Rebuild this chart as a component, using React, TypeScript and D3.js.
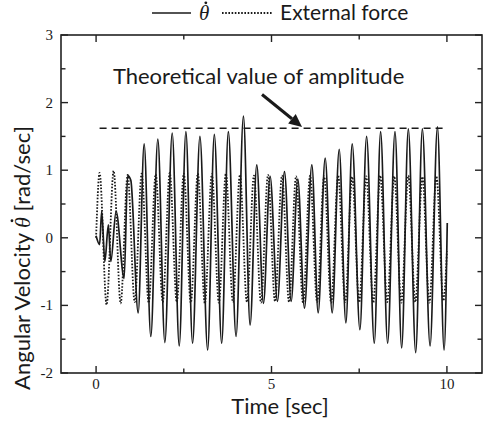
import React, { useLayoutEffect, useRef, useState } from 'react';
import * as d3 from 'd3';

// External force: extrema (time [s], value)
const forceT = [0, 0.1, 0.3, 0.5, 0.7, 0.9, 1.1, 1.3, 1.5, 1.7, 1.9, 2.1, 2.3, 2.5, 2.7, 2.9, 3.1, 3.3, 3.5, 3.7, 3.9, 4.1, 4.3, 4.5, 4.7, 4.9, 5.1, 5.3, 5.5, 5.7, 5.9, 6.1, 6.3, 6.5, 6.7, 6.9, 7.1, 7.3, 7.5, 7.7, 7.9, 8.1, 8.3, 8.5, 8.7, 8.9, 9.1, 9.3, 9.5, 9.7, 9.9, 10.0];
const forceV = [0, 0.96, -0.99, 0.99, -0.97, 0.93, -0.95, 0.95, -0.96, 0.94, -0.95, 0.96, -0.95, 0.95, -0.96, 0.95, -0.97, 0.94, -0.96, 0.95, -0.95, 0.93, -0.95, 0.92, -0.96, 0.93, -0.94, 0.92, -0.95, 0.91, -0.96, 0.92, -0.95, 0.91, -0.96, 0.92, -0.95, 0.9, -0.95, 0.91, -0.96, 0.92, -0.95, 0.91, -0.96, 0.92, -0.95, 0.9, -0.96, 0.91, -0.93, -0.2];

// Angular velocity: extrema (time [s], value)
const velT = [0, 0.1, 0.16, 0.25, 0.35, 0.42, 0.57, 0.8, 0.9, 0.99, 1.2, 1.37, 1.56, 1.76, 1.96, 2.17, 2.37, 2.56, 2.75, 2.96, 3.18, 3.37, 3.58, 3.77, 3.99, 4.2, 4.39, 4.58, 4.77, 4.96, 5.17, 5.37, 5.56, 5.75, 5.94, 6.15, 6.33, 6.53, 6.73, 6.93, 7.12, 7.3, 7.52, 7.71, 7.93, 8.11, 8.31, 8.52, 8.71, 8.9, 9.11, 9.3, 9.52, 9.73, 9.92, 10.01];
const velV = [0.03, -0.1, 0.39, -0.35, 0.19, -0.35, 0.39, -0.6, 0.92, 0.85, -1.11, 1.39, -1.46, 1.46, -1.55, 1.55, -1.6, 1.57, -1.56, 1.5, -1.66, 1.53, -1.56, 1.57, -1.46, 1.8, -1.29, 1.08, -0.97, 0.91, -0.94, 0.98, -0.94, 0.87, -1.04, 1.08, -1.11, 1.18, -1.11, 1.31, -1.26, 1.39, -1.36, 1.5, -1.56, 1.57, -1.56, 1.57, -1.63, 1.61, -1.7, 1.61, -1.6, 1.64, -1.66, 0.22];

const xMajor = [0, 5, 10];
const xMinor = [2.5, 7.5];
const yMajor = [-2, -1, 0, 1, 2, 3];
const yMinor = [-1.5, -0.5, 0.5, 1.5, 2.5];
const theoryValue = 1.62;
const theorySpan = [0.1, 10];
const annotationText = 'Theoretical value of amplitude';
const annotationPos = [0.48, 2.27];
const arrowFrom = [4.73, 2.12];
const arrowTo = [5.87, 1.64];

const W = 483;
const H = 421;
const SANS = 'Lato, "Open Sans", sans-serif';
const SERIF = '"Liberation Serif", "DejaVu Serif", serif';
const INK = '#1a1a1a';

type Pt = { x: number; y: number };

function useThetaDot(ref: React.RefObject<SVGTextElement | null>, index: number, fontSize: number) {
  const [pt, setPt] = useState<Pt | null>(null);
  useLayoutEffect(() => {
    const el = ref.current;
    if (!el) return;
    try {
      const r = el.getExtentOfChar(index);
      const base = el.getStartPositionOfChar(index).y;
      setPt({ x: r.x + r.width * 0.5 + fontSize * 0.08, y: base - fontSize * 0.82 });
    } catch (e) {
      /* ignore */
    }
  }, [ref, index, fontSize]);
  return pt;
}

export default function App() {
  const x = d3.scaleLinear().domain([-1, 11]).range([61, 482]);
  const y = d3.scaleLinear().domain([-2, 3]).range([373, 35]);

  const line = d3
    .line<[number, number]>()
    .x((d) => x(d[0]))
    .y((d) => y(d[1]))
    .curve(d3.curveMonotoneX);

  const forcePath = line(forceT.map((t, i) => [t, forceV[i]]) as [number, number][]) || '';
  const velPath = line(velT.map((t, i) => [t, velV[i]]) as [number, number][]) || '';

  const [x0, x1] = x.range();
  const [yb, yt] = y.range();

  const ax0 = x(arrowFrom[0]);
  const ay0 = y(arrowFrom[1]);
  const ax1 = x(arrowTo[0]);
  const ay1 = y(arrowTo[1]);
  const ang = Math.atan2(ay1 - ay0, ax1 - ax0);
  const headL = 13;
  const headW = 6;
  const bx = ax1 - headL * Math.cos(ang);
  const by = ay1 - headL * Math.sin(ang);
  const px = -Math.sin(ang);
  const py = Math.cos(ang);
  const head = `${ax1},${ay1} ${bx + headW * px},${by + headW * py} ${bx - headW * px},${by - headW * py}`;

  const majL = 7;
  const minL = 4.5;

  const yLabelRef = useRef<SVGTextElement>(null);
  const legRef = useRef<SVGTextElement>(null);
  const yDot = useThetaDot(yLabelRef, 17, 22);
  const legDot = useThetaDot(legRef, 0, 21);

  return (
    <svg width={W} height={H} style={{ position: 'absolute', left: 0, top: 0, background: '#fff' }}>
      <rect x={0} y={0} width={W} height={H} fill="#fff" />
      <path d={forcePath} fill="none" stroke={INK} strokeWidth={1.8} strokeDasharray="1.6,1.6" />
      <path d={velPath} fill="none" stroke={INK} strokeWidth={1.7} />
      <line
        x1={x(theorySpan[0])}
        x2={x(theorySpan[1])}
        y1={y(theoryValue)}
        y2={y(theoryValue)}
        stroke={INK}
        strokeWidth={1.4}
        strokeDasharray="7,5"
      />
      <text x={x(annotationPos[0])} y={y(annotationPos[1])} fontFamily={SANS} fontSize={22} fill={INK}>
        {annotationText}
      </text>
      <line x1={ax0} y1={ay0} x2={bx} y2={by} stroke={INK} strokeWidth={3} />
      <polygon points={head} fill={INK} />

      <rect x={x0} y={yt} width={x1 - x0} height={yb - yt} fill="none" stroke="#222" strokeWidth={1.6} />
      {xMajor.map((t) => (
        <g key={'xm' + t}>
          <line x1={x(t)} x2={x(t)} y1={yb} y2={yb - majL} stroke="#222" strokeWidth={1.4} />
          <line x1={x(t)} x2={x(t)} y1={yt} y2={yt + majL} stroke="#222" strokeWidth={1.4} />
          <text x={x(t)} y={yb + 16} textAnchor="middle" fontFamily={SERIF} fontSize={15} fill={INK}>
            {t}
          </text>
        </g>
      ))}
      {xMinor.map((t) => (
        <g key={'xn' + t}>
          <line x1={x(t)} x2={x(t)} y1={yb} y2={yb - minL} stroke="#222" strokeWidth={1.4} />
          <line x1={x(t)} x2={x(t)} y1={yt} y2={yt + minL} stroke="#222" strokeWidth={1.4} />
        </g>
      ))}
      {yMajor.map((v) => (
        <g key={'ym' + v}>
          <line x1={x0} x2={x0 + majL} y1={y(v)} y2={y(v)} stroke="#222" strokeWidth={1.4} />
          <line x1={x1} x2={x1 - majL} y1={y(v)} y2={y(v)} stroke="#222" strokeWidth={1.4} />
          <text x={x0 - 8} y={y(v) + 5} textAnchor="end" fontFamily={SERIF} fontSize={15} fill={INK}>
            {v}
          </text>
        </g>
      ))}
      {yMinor.map((v) => (
        <g key={'yn' + v}>
          <line x1={x0} x2={x0 + minL} y1={y(v)} y2={y(v)} stroke="#222" strokeWidth={1.4} />
          <line x1={x1} x2={x1 - minL} y1={y(v)} y2={y(v)} stroke="#222" strokeWidth={1.4} />
        </g>
      ))}

      <text x={280} y={414} textAnchor="middle" fontFamily={SANS} fontSize={22} fill={INK}>
        Time [sec]
      </text>
      <g transform="translate(30, 258) rotate(-90)">
        <text ref={yLabelRef} x={0} y={0} textAnchor="middle" fontFamily={SANS} fontSize={22} fill={INK}>
          Angular Velocity{' '}
          <tspan fontFamily={SERIF} fontStyle="italic">
            {'\u03B8'}
          </tspan>{' '}
          [rad/sec]
        </text>
        {yDot && <circle cx={yDot.x} cy={yDot.y} r={1.4} fill={INK} />}
      </g>

      <line x1={152} x2={191} y1={13} y2={13} stroke={INK} strokeWidth={1.7} />
      <text ref={legRef} x={199} y={20} fontFamily={SERIF} fontStyle="italic" fontSize={21} fill={INK}>
        {'\u03B8'}
      </text>
      {legDot && <circle cx={legDot.x} cy={legDot.y} r={1.4} fill={INK} />}
      <line x1={222} x2={272} y1={13} y2={13} stroke={INK} strokeWidth={1.8} strokeDasharray="1.6,1.6" />
      <text x={280} y={20} fontFamily={SANS} fontSize={21} fill={INK}>
        External force
      </text>
    </svg>
  );
}
